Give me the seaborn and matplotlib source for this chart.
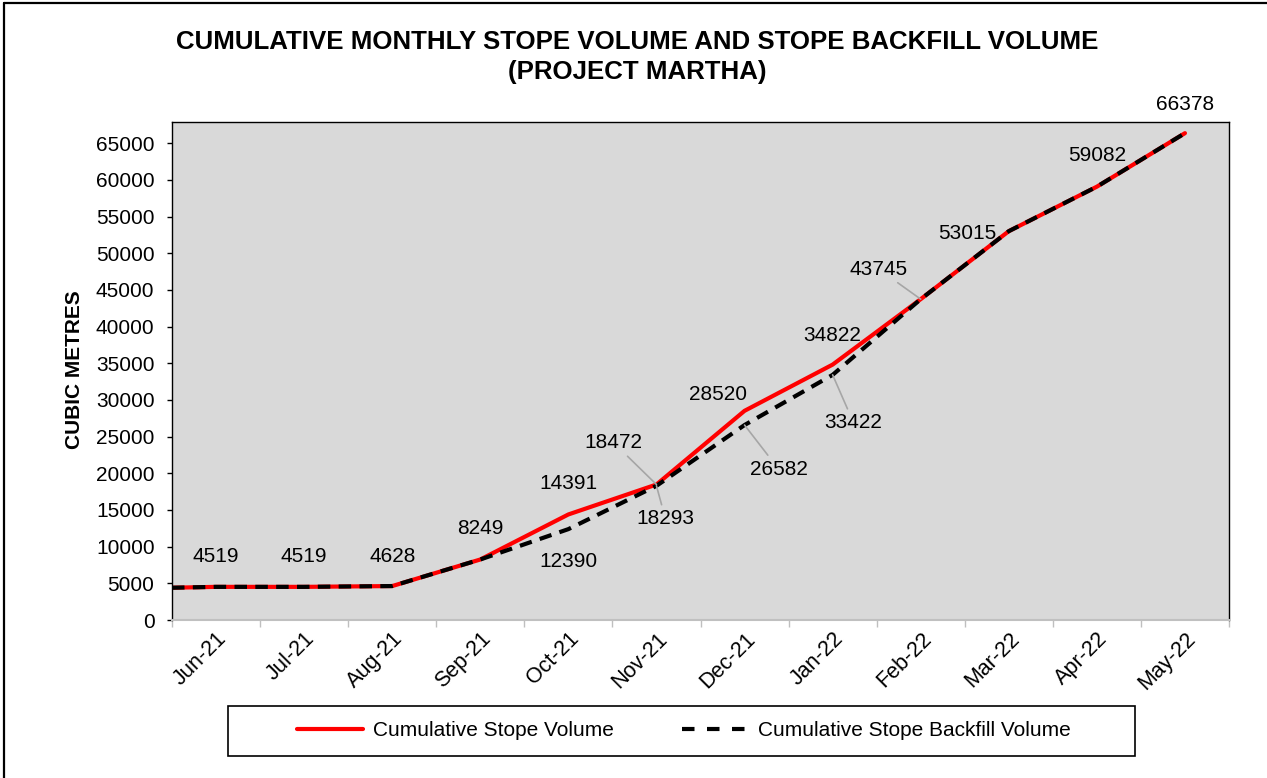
import numpy as np
import pandas as pd
import matplotlib
matplotlib.use("Agg")
import matplotlib.pyplot as plt
import seaborn as sns
from matplotlib.lines import Line2D
from matplotlib.patches import Rectangle

# ---------------- data ----------------
months = ["Jun-21", "Jul-21", "Aug-21", "Sep-21", "Oct-21", "Nov-21",
          "Dec-21", "Jan-22", "Feb-22", "Mar-22", "Apr-22", "May-22"]
stope_volume = [4519, 4519, 4628, 8249, 14391, 18472, 28520, 34822, 43745, 53015, 59082, 66378]
backfill_volume = [4519, 4519, 4628, 8249, 12390, 18293, 26582, 33422, 43745, 53015, 59082, 66378]
opening_volume = 4400  # value where both lines enter at the left edge of the plot
y_ticks = list(range(0, 65001, 5000))
series_names = ["Cumulative Stope Volume", "Cumulative Stope Backfill Volume"]
title_text = "CUMULATIVE MONTHLY STOPE VOLUME AND STOPE BACKFILL VOLUME\n(PROJECT MARTHA)"
y_label = "CUBIC METRES"

# ---------------- style ----------------
sns.set_theme(style="white")
plt.rcParams["font.family"] = ["Liberation Sans", "DejaVu Sans"]
plt.rcParams["text.color"] = "black"
plt.rcParams["axes.labelcolor"] = "black"
plt.rcParams["xtick.color"] = "black"
plt.rcParams["ytick.color"] = "black"

W, H = 1267, 778
fig = plt.figure(figsize=(W / 100, H / 100), dpi=100)
fig.patch.set_facecolor("white")
ax = fig.add_axes([172 / W, 1 - 620 / H, (1229 - 172) / W, (620 - 122) / H])
ax.set_facecolor("#d9d9d9")

pos = np.arange(len(months))
line_pos = np.concatenate([[-0.5], pos])
n = len(line_pos)
df = pd.DataFrame({
    "pos": np.tile(line_pos, 2),
    "value": [opening_volume] + stope_volume + [opening_volume] + backfill_volume,
    "series": [series_names[0]] * n + [series_names[1]] * n,
})

sns.lineplot(data=df, x="pos", y="value", hue="series", style="series",
             hue_order=series_names, style_order=series_names,
             palette={series_names[0]: "#ff0000", series_names[1]: "black"},
             dashes={series_names[0]: "", series_names[1]: (3, 2)},
             linewidth=3, estimator=None, sort=False, legend=False, ax=ax)

ax.set_xlim(-0.5, len(months) - 0.5)
ax.set_ylim(0, 67900)
ax.set_xlabel("")
ax.set_ylabel("")

# x axis: ticks between categories, labels at category centres
ax.set_xticks(np.arange(-0.5, len(months), 1))
ax.set_xticklabels([])
ax.set_xticks(pos, minor=True)
ax.set_xticklabels(months, minor=True, rotation=45, ha="right", va="top",
                   rotation_mode="anchor", fontsize=15.5, color="black")
ax.tick_params(axis="x", which="major", length=5, width=1, color="#bfbfbf",
               direction="out", bottom=True)
ax.tick_params(axis="x", which="minor", length=0, pad=6, bottom=True)

# y axis
ax.set_yticks(y_ticks)
ax.set_yticklabels([str(v) for v in y_ticks], fontsize=15, color="black")
ax.tick_params(axis="y", which="major", length=3.6, width=1, color="black",
               direction="out", left=True, pad=9)
ax.grid(False)

for side in ["left", "top", "right"]:
    ax.spines[side].set_visible(True)
    ax.spines[side].set_color("black")
    ax.spines[side].set_linewidth(1)
ax.spines["bottom"].set_color("#c0c0c0")
ax.spines["bottom"].set_linewidth(1.5)

# ---------------- data labels ----------------
leader = dict(arrowstyle="-", color="#a6a6a6", lw=1.2, shrinkA=1, shrinkB=0)
stope_label_offsets = {0: (0, 30, False), 1: (0, 30, False), 2: (0, 30, False),
                       3: (0, 31, False), 4: (0, 31, False), 5: (-43, 42, True),
                       6: (-27, 16, False), 7: (0, 29, False), 8: (-42, 30, True),
                       9: (-42, -2, False), 10: (0, 31, False), 11: (0, 29, False)}
backfill_label_offsets = {4: (0, -32, False), 5: (9, -33, True),
                          6: (34, -44, True), 7: (21, -48, True)}

for values, offsets in [(stope_volume, stope_label_offsets),
                        (backfill_volume, backfill_label_offsets)]:
    for i, (dx, dy, has_leader) in offsets.items():
        ax.annotate(str(values[i]), xy=(pos[i], values[i]), xytext=(dx, dy),
                    textcoords="offset pixels", ha="center", va="center",
                    fontsize=15, color="black", annotation_clip=False,
                    arrowprops=leader if has_leader else None)

# ---------------- title, y label ----------------
fig.text(637 / W, 1 - 57 / H, title_text, ha="center", va="center",
         fontsize=18.6, fontweight="bold", linespacing=1.3, color="black")
fig.text(75 / W, 1 - 370 / H, y_label, ha="center", va="center",
         rotation=90, fontsize=15, fontweight="bold", color="black")

# ---------------- legend ----------------
handles = [Line2D([], [], color="#ff0000", lw=3),
           Line2D([], [], color="black", lw=3, dashes=(3, 3))]
leg = fig.legend(handles, series_names, loc="center",
                 bbox_to_anchor=(684 / W, 1 - 731 / H), ncol=2, frameon=False,
                 fontsize=15, handlelength=3.2, handletextpad=0.45, columnspacing=3.3)
for t in leg.get_texts():
    t.set_color("black")
fig.add_artist(Rectangle((228 / W, 1 - 756 / H), (1135 - 228) / W, 50 / H,
                         transform=fig.transFigure, fill=False,
                         edgecolor="black", lw=1.2))

# outer chart border (left and top edges visible)
fig.add_artist(Line2D([4 / W, 4 / W], [0, 1 - 3 / H], transform=fig.transFigure,
                      color="black", lw=1.6))
fig.add_artist(Line2D([4 / W, 1], [1 - 3 / H, 1 - 3 / H], transform=fig.transFigure,
                      color="black", lw=1.6))

fig.savefig("out.png", dpi=100)
